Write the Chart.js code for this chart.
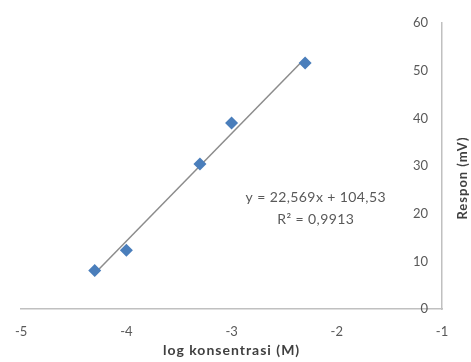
<!DOCTYPE html>
<html><head><meta charset="utf-8">
<script src="https://cdn.jsdelivr.net/npm/chart.js@4/dist/chart.umd.min.js"></script>
<style>html,body{margin:0;padding:0;background:#fff}#wrap{width:471px;height:362px}</style>
</head><body><div id="wrap"><canvas id="c" width="471" height="362"></canvas></div>
<script>
const logConc = [-4.301, -4.0, -3.301, -3.0, -2.301];
const respon = [8.1, 12.3, 30.4, 39.0, 51.6];
const trendX = [-4.301, -2.301];
const trendY = [7.46, 52.6];
const xTicks = [-5, -4, -3, -2, -1];
const yTicks = [0, 10, 20, 30, 40, 50, 60];
const eqLines = ['y = 22,569x + 104,53', 'R² = 0,9913'];
const eqPos = {x: -2.2, y: 23.3};
const xTitle = 'log konsentrasi (M)';
const yTitle = 'Respon (mV)';

const FONT = 'Lato, "Open Sans", sans-serif';
const TXT = '#595959';

const overlay = {
  id: 'overlay',
  afterDraw(chart) {
    const {ctx, scales, chartArea} = chart;
    ctx.save();
    ctx.fillStyle = TXT;
    ctx.font = '14px ' + FONT;
    ctx.textAlign = 'center';
    ctx.textBaseline = 'middle';
    try { ctx.letterSpacing = '0.4px'; } catch (e) {}
    const ex = scales.x.getPixelForValue(eqPos.x);
    const ey = scales.y.getPixelForValue(eqPos.y);
    ctx.fillText(eqLines[0], ex, ey);
    ctx.fillText(eqLines[1], ex, ey + 22);
    // x title
    ctx.font = 'bold 14px ' + FONT;
    ctx.fillStyle = '#404040';
    try { ctx.letterSpacing = '1px'; } catch (e) {}
    ctx.fillText(xTitle, (chartArea.left + chartArea.right) / 2, 350);
    // rotated y title, reading bottom to top
    ctx.font = 'bold 13px ' + FONT;
    ctx.translate(463, 178);
    ctx.rotate(-Math.PI / 2);
    ctx.fillText(yTitle, 0, 0);
    ctx.restore();
  }
};

new Chart(document.getElementById('c'), {
  type: 'scatter',
  data: {
    datasets: [
      {
        type: 'line',
        data: trendX.map((x, i) => ({x, y: trendY[i]})),
        borderColor: '#8c8c8c',
        borderWidth: 1.5,
        pointRadius: 0,
        fill: false,
        order: 2
      },
      {
        data: logConc.map((x, i) => ({x, y: respon[i]})),
        pointStyle: 'rectRot',
        pointRadius: 6.5,
        backgroundColor: '#4A7EBB',
        borderColor: '#4A7EBB',
        borderWidth: 0,
        order: 1
      }
    ]
  },
  options: {
    responsive: false,
    animation: false,
    devicePixelRatio: 1,
    layout: {padding: {left: 7, right: 29, top: 23, bottom: 2}},
    plugins: {legend: {display: false}, tooltip: {enabled: false}},
    scales: {
      x: {
        type: 'linear', position: 'bottom', min: -5, max: -1,
        afterBuildTicks: s => { s.ticks = xTicks.map(v => ({value: v})); },
        afterFit: s => { s.height = 51; },
        grid: {display: false, drawTicks: false},
        border: {display: true, color: '#c0c0c0', width: 1.5},
        ticks: {color: TXT, font: {size: 13, family: FONT}, padding: 15, maxRotation: 0},
        title: {display: false, text: xTitle}
      },
      y: {
        type: 'linear', position: 'right', min: 0, max: 60,
        afterBuildTicks: s => { s.ticks = yTicks.map(v => ({value: v})); },
        afterFit: s => { s.width = 0; },
        grid: {display: false, drawTicks: false},
        border: {display: true, color: '#c0c0c0', width: 1.5},
        ticks: {color: TXT, font: {size: 13, family: FONT}, padding: -14, mirror: true}
      }
    }
  },
  plugins: [overlay]
});
</script></body></html>
